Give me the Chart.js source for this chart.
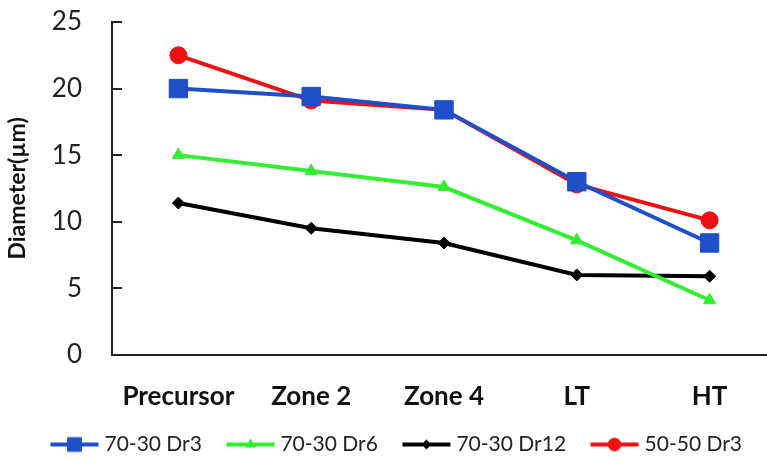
<!DOCTYPE html>
<html>
<head>
<meta charset="utf-8">
<script src="https://cdn.jsdelivr.net/npm/chart.js@4.4.1/dist/chart.umd.min.js"></script>
<style>
  html, body { margin: 0; padding: 0; background: #fff; overflow: hidden; }
  #wrap { width: 790px; height: 461px; }
</style>
</head>
<body>
<div id="wrap"><canvas id="diameterChart"></canvas></div>
<script>
// categories along the x axis
const stages = ["Precursor", "Zone 2", "Zone 4", "LT", "HT"];

// diameter values (µm)
const dr3_7030  = [20.0, 19.4, 18.4, 13.0, 8.4];
const dr6_7030  = [15.0, 13.8, 12.6, 8.6, 4.1];
const dr12_7030 = [11.4, 9.5, 8.4, 6.0, 5.9];
const dr3_5050  = [22.5, 19.1, 18.4, 12.8, 10.1];

const yTicks = [0, 5, 10, 15, 20, 25];

const FONT = "Lato, 'Open Sans', sans-serif";

function makeSeries(label, data, color, style, radius, width) {
    return {
        label: label,
        data: data,
        borderColor: color,
        backgroundColor: color,
        pointBackgroundColor: color,
        pointBorderColor: color,
        pointStyle: style,
        pointRadius: radius,
        pointHoverRadius: radius,
        borderWidth: width,
        pointBorderWidth: 1,
        tension: 0
    };
}

// legend icon: short line with the marker in the middle
// canvas is wider than the legend box so the line sits close to the text
function legendIcon(ds) {
    const c = document.createElement("canvas");
    c.width = 76;
    c.height = 22;
    const g = c.getContext("2d");
    const x0 = 17.5, x1 = 65.5;
    g.strokeStyle = ds.borderColor;
    g.lineWidth = ds.borderWidth;
    g.beginPath();
    g.moveTo(x0, 11);
    g.lineTo(x1, 11);
    g.stroke();
    g.fillStyle = ds.pointBackgroundColor;
    g.strokeStyle = ds.pointBorderColor;
    g.lineWidth = 1;
    Chart.helpers.drawPoint(g, {
        pointStyle: ds.pointStyle,
        radius: ds.pointRadius * 0.75,
        rotation: 0,
        borderWidth: 1
    }, (x0 + x1) / 2, 11);
    return c;
}

// inward tick marks on the y axis
const innerTicks = {
    id: "innerTicks",
    afterDraw(chart) {
        const y = chart.scales.y;
        const ctx = chart.ctx;
        ctx.save();
        ctx.strokeStyle = "#222";
        ctx.lineWidth = 2;
        y.ticks.forEach(t => {
            const py = Math.round(y.getPixelForValue(t.value));
            ctx.beginPath();
            ctx.moveTo(y.right, py);
            ctx.lineTo(y.right + 10, py);
            ctx.stroke();
        });
        ctx.restore();
    }
};

const ctx = document.getElementById("diameterChart").getContext("2d");

const datasets = [
    makeSeries("70-30 Dr3", dr3_7030, "#1f4fc8", "rect", 13, 4),
    makeSeries("70-30 Dr6", dr6_7030, "#33ee33", "triangle", 7, 4),
    makeSeries("70-30 Dr12", dr12_7030, "#000000", "rectRot", 6, 4),
    makeSeries("50-50 Dr3", dr3_5050, "#ee1111", "circle", 8.5, 4)
];

const diameterChart = new Chart(ctx, {
    type: "line",
    data: { labels: stages, datasets: datasets },
    options: {
        responsive: true,
        maintainAspectRatio: false,
        animation: false,
        layout: { padding: { top: 22, right: 0, bottom: -4, left: 0 } },
        plugins: {
            tooltip: { enabled: false },
            legend: {
                position: "bottom",
                labels: {
                    font: { family: FONT, size: 21 },
                    color: "#222",
                    usePointStyle: true,
                    pointStyleWidth: 46,
                    padding: 22,
                    generateLabels(chart) {
                        return chart.data.datasets.map((ds, i) => ({
                            text: ds.label,
                            pointStyle: legendIcon(ds),
                            fillStyle: ds.borderColor,
                            strokeStyle: ds.borderColor,
                            lineWidth: 0,
                            hidden: false,
                            datasetIndex: i,
                            fontColor: "#222"
                        }));
                    }
                }
            }
        },
        scales: {
            x: {
                offset: true,
                grid: { display: true, drawOnChartArea: false, drawTicks: true, tickLength: 26, tickColor: "rgba(0,0,0,0)" },
                border: { display: true, color: "#222", width: 2 },
                ticks: {
                    padding: 0,
                    color: "#111",
                    font: { family: FONT, size: 26, weight: "bold" }
                }
            },
            y: {
                min: 0,
                max: 25,
                afterBuildTicks(scale) {
                    scale.ticks = yTicks.map(v => ({ value: v }));
                },
                afterFit(scale) {
                    scale.width = 112;
                },
                grid: { display: true, drawOnChartArea: false, drawTicks: true, tickLength: 30, tickColor: "rgba(0,0,0,0)" },
                border: { display: true, color: "#222", width: 2 },
                ticks: {
                    padding: 0,
                    color: "#222",
                    font: { family: FONT, size: 26 }
                },
                title: {
                    display: true,
                    text: "Diameter(µm)",
                    color: "#111",
                    font: { family: FONT, size: 23, weight: "bold" }
                }
            }
        }
    },
    plugins: [innerTicks]
});
</script>
</body>
</html>
